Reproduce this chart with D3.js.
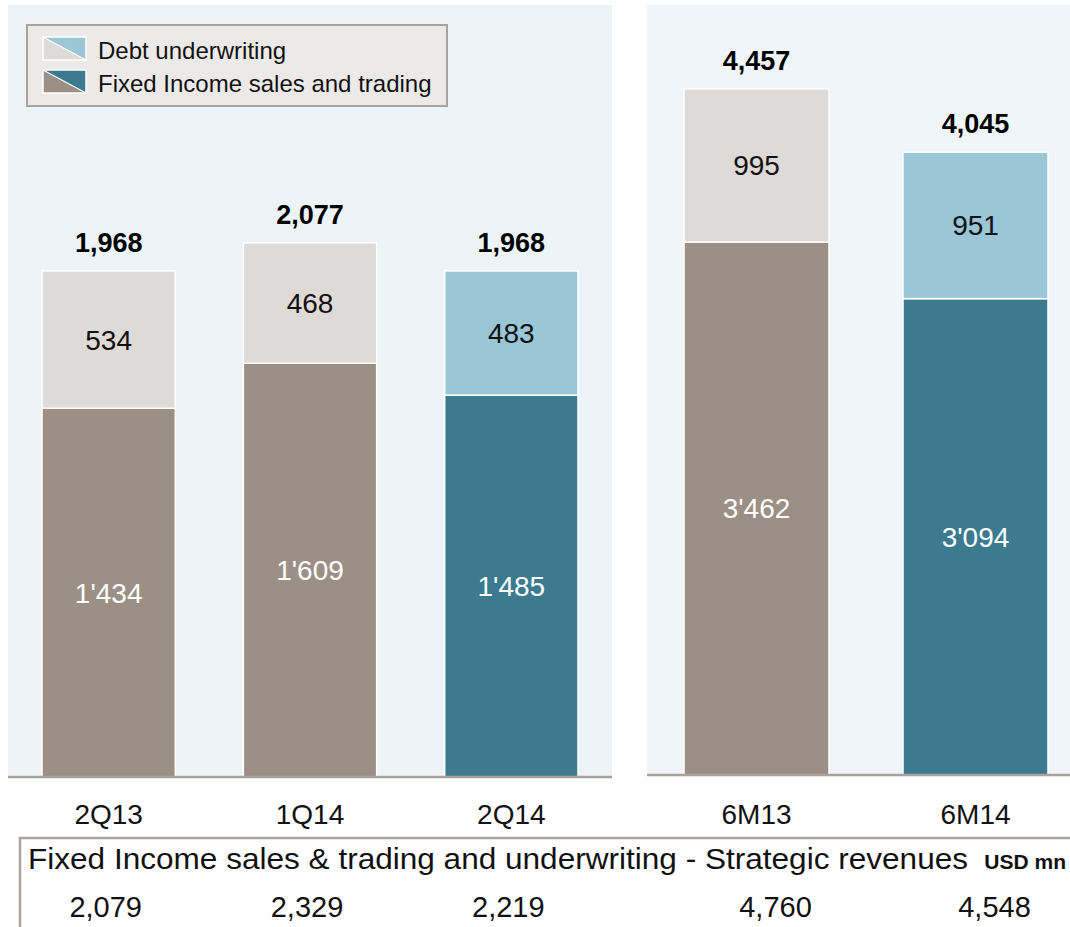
<!DOCTYPE html>
<html>
<head>
<meta charset="utf-8">
<script src="https://cdn.jsdelivr.net/npm/d3@7"></script>
<style>
  body { margin: 0; background: #fff; }
  svg { display: block; font-family: 'Liberation Sans', Arial, sans-serif; }
</style>
</head>
<body>
<div id="chart"></div>
<script>
// 季度 / 半年两组数据
const quarterCats = ['2Q13', '1Q14', '2Q14']
const quarterDebt = [534, 468, 483]
const quarterFixed = [1434, 1609, 1485]
const halfCats = ['6M13', '6M14']
const halfDebt = [995, 951]
const halfFixed = [3462, 3094]
const strategicRevenues = [2079, 2329, 2219, 4760, 4548]
const highlighted = ['2Q14', '6M14']
const legendLabels = ['Debt underwriting', 'Fixed Income sales and trading']
const tableTitle = 'Fixed Income sales & trading and underwriting - Strategic revenues'
const tableUnit = 'USD mn'

const colors = {
  debtOld: '#dedad7',
  fixedOld: '#9c8f85',
  debtNew: '#9ac6d6',
  fixedNew: '#3c7b8f',
  rule: '#aaa39c'
}

const W = 1070, H = 927
const fmtTotal = d3.format(',')
const fmtSeg = d3.formatLocale({ decimal: '.', thousands: "'", grouping: [3], currency: ['', ''] }).format(',')

const svg = d3.select('#chart').append('svg')
  .attr('width', W)
  .attr('height', H)

function drawPanel(opt) {
  let g = svg.append('g')
  g.append('rect')
    .attr('x', opt.left)
    .attr('y', 5)
    .attr('width', opt.right - opt.left)
    .attr('height', opt.base - 5)
    .attr('fill', opt.bg)

  let x = d3.scaleBand()
    .domain(opt.cats)
    .range(opt.xRange)
    .paddingInner(0.338)
    .paddingOuter(0.169)
  let y = d3.scaleLinear()
    .domain([0, opt.yMax])
    .range([opt.base, opt.base - opt.plotH])

  let rows = opt.cats.map((c, i) => ({ cat: c, debt: opt.debt[i], fixed: opt.fixed[i] }))
  let layers = d3.stack().keys(['fixed', 'debt'])(rows)

  let layer = g.selectAll('g.layer')
    .data(layers)
    .join('g')
    .attr('class', 'layer')

  layer.selectAll('rect')
    .data(l => l.map(d => ({ key: l.key, d })))
    .join('rect')
    .attr('x', v => x(v.d.data.cat))
    .attr('y', v => y(v.d[1]))
    .attr('width', x.bandwidth())
    .attr('height', v => y(v.d[0]) - y(v.d[1]))
    .attr('fill', v => {
      let isNew = highlighted.includes(v.d.data.cat)
      if (v.key === 'debt') return isNew ? colors.debtNew : colors.debtOld
      return isNew ? colors.fixedNew : colors.fixedOld
    })
    .attr('stroke', '#fff')
    .attr('stroke-width', 1.5)

  layer.selectAll('text')
    .data(l => l.map(d => ({ key: l.key, d })))
    .join('text')
    .attr('x', v => x(v.d.data.cat) + x.bandwidth() / 2)
    .attr('y', v => (y(v.d[0]) + y(v.d[1])) / 2 + 10)
    .attr('text-anchor', 'middle')
    .attr('font-size', 28)
    .attr('fill', v => v.key === 'fixed' ? '#fff' : '#111')
    .text(v => fmtSeg(v.d.data[v.key]))

  g.selectAll('text.total')
    .data(rows)
    .join('text')
    .attr('class', 'total')
    .attr('x', d => x(d.cat) + x.bandwidth() / 2)
    .attr('y', d => y(d.debt + d.fixed) - 19)
    .attr('text-anchor', 'middle')
    .attr('font-size', 27)
    .attr('font-weight', 'bold')
    .attr('fill', '#000')
    .text(d => fmtTotal(d.debt + d.fixed))

  g.append('line')
    .attr('x1', opt.left)
    .attr('x2', opt.right)
    .attr('y1', opt.base)
    .attr('y2', opt.base)
    .attr('stroke', colors.rule)
    .attr('stroke-width', 2.5)

  let axis = g.append('g')
    .attr('transform', `translate(0,${opt.base})`)
    .call(d3.axisBottom(x).tickSize(0).tickPadding(823 - opt.base - 19))
  axis.select('.domain').remove()
  axis.selectAll('text')
    .attr('font-size', 28)
    .attr('font-family', null)
    .attr('fill', '#111')
  return x
}

let xq = drawPanel({
  cats: quarterCats, debt: quarterDebt, fixed: quarterFixed,
  left: 8, right: 612, base: 777, xRange: [8, 612],
  yMax: 2800, plotH: 720, bg: '#ecf4f7'
})
let xh = drawPanel({
  cats: halfCats, debt: halfDebt, fixed: halfFixed,
  left: 647, right: 1070, base: 775, xRange: [647, 1085],
  yMax: 4800, plotH: 739, bg: '#eff5f8'
})

// 图例
let legend = svg.append('g').attr('transform', 'translate(27,25)')
legend.append('rect')
  .attr('width', 420)
  .attr('height', 81)
  .attr('fill', '#eceae8')
  .attr('stroke', colors.rule)
  .attr('stroke-width', 2)
let swatches = [[colors.debtOld, colors.debtNew], [colors.fixedOld, colors.fixedNew]]
legendLabels.forEach((label, i) => {
  let item = legend.append('g').attr('transform', `translate(16,${12 + i * 33})`)
  let w = 43, h = 23
  item.append('path')
    .attr('d', `M0,0 L${w},${h} L0,${h} Z`)
    .attr('fill', swatches[i][0])
  item.append('path')
    .attr('d', `M0,0 L${w},0 L${w},${h} Z`)
    .attr('fill', swatches[i][1])
  item.append('rect')
    .attr('width', w)
    .attr('height', h)
    .attr('fill', 'none')
    .attr('stroke', '#fff')
    .attr('stroke-width', 1.5)
  item.append('line')
    .attr('x1', 0).attr('y1', 0).attr('x2', w).attr('y2', h)
    .attr('stroke', '#fff')
    .attr('stroke-width', 1.2)
  item.append('text')
    .attr('x', 55)
    .attr('y', h - 1)
    .attr('font-size', 24)
    .attr('fill', '#111')
    .text(label)
})

// 底部表格
let table = svg.append('g')
table.append('path')
  .attr('d', `M20,${H} V838 H${W}`)
  .attr('fill', 'none')
  .attr('stroke', colors.rule)
  .attr('stroke-width', 2.5)
table.append('text')
  .attr('x', 28)
  .attr('y', 869)
  .attr('font-size', 29)
  .attr('fill', '#111')
  .attr('textLength', 940)
  .attr('lengthAdjust', 'spacingAndGlyphs')
  .text(tableTitle)
table.append('text')
  .attr('x', 1066)
  .attr('y', 869)
  .attr('text-anchor', 'end')
  .attr('font-size', 21)
  .attr('font-weight', 'bold')
  .attr('fill', '#111')
  .text(tableUnit)

let columns = quarterCats.map(c => xq(c) + xq.bandwidth() / 2)
  .concat(halfCats.map(c => xh(c) + xh.bandwidth() / 2 + 22))
table.selectAll('text.rev')
  .data(strategicRevenues)
  .join('text')
  .attr('class', 'rev')
  .attr('x', (d, i) => columns[i] - 3)
  .attr('y', 917)
  .attr('text-anchor', 'middle')
  .attr('font-size', 29)
  .attr('fill', '#111')
  .text(d => fmtTotal(d))
</script>
</body>
</html>
